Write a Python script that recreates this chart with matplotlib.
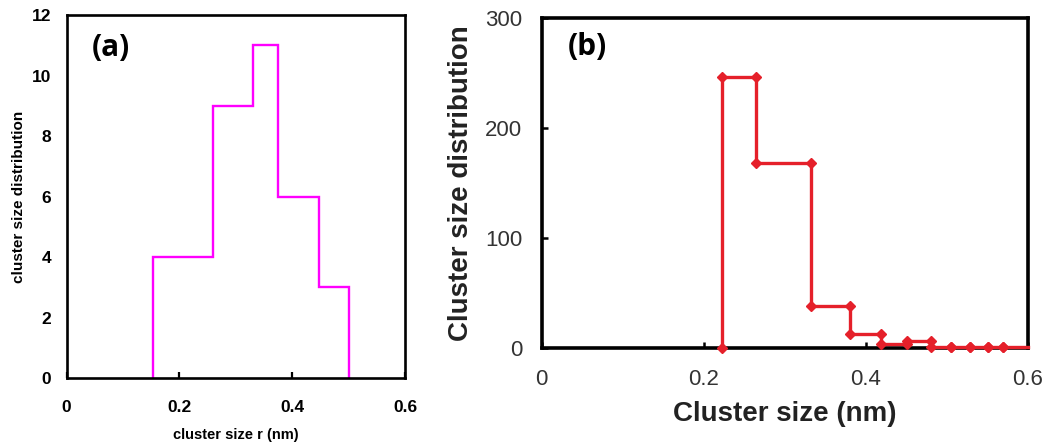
import matplotlib
matplotlib.use("Agg")
from matplotlib import pyplot as plt

# panel (a): histogram of cluster size r
edges_a = [0.153, 0.26, 0.33, 0.375, 0.448, 0.5]
counts_a = [4, 9, 11, 6, 3]
xticks_a = [0, 0.2, 0.4, 0.6]
xticklabels_a = ["0", "0.2", "0.4", "0.6"]
yticks_a = [0, 2, 4, 6, 8, 10, 12]

# panel (b): step distribution with diamond markers
edges_b = [0.222, 0.264, 0.332, 0.380, 0.418, 0.451, 0.480, 0.505, 0.528, 0.550, 0.569, 0.600]
values_b = [246, 168, 38, 13, 4, 7, 1, 1, 1, 1, 1]
xticks_b = [0, 0.2, 0.4, 0.6]
xticklabels_b = ["0", "0.2", "0.4", "0.6"]
yticks_b = [0, 100, 200, 300]

fig = plt.figure(figsize=(10.5, 4.44), dpi=100)

###############################
### panel (a)
ax1 = fig.add_axes([0.0635, 0.1486, 0.3222, 0.8176])
ax1.stairs(counts_a, edges_a, baseline=0, color="#FF00FF", linewidth=1.7)
ax1.set_xlim(0, 0.6)
ax1.set_ylim(0, 12)
ax1.set_xticks(xticks_a)
ax1.set_xticklabels(xticklabels_a)
ax1.set_yticks(yticks_a)
for s in ax1.spines.values():
    s.set_linewidth(1.9)
    s.set_color("black")
ax1.tick_params(axis="x", direction="in", length=4, width=1.6, pad=16)
ax1.tick_params(axis="y", length=0, pad=11)
for lab in ax1.get_xticklabels() + ax1.get_yticklabels():
    lab.set_fontfamily("Liberation Sans")
    lab.set_fontweight("bold")
    lab.set_fontsize(12.5)
ax1.set_xlabel("cluster size r (nm)", fontsize=10.5, fontweight="bold",
               family="Liberation Sans", labelpad=9)
ax1.set_ylabel("cluster size distribution", fontsize=11, fontweight="bold",
               family="Liberation Sans", labelpad=4)
ax1.text(0.075, 0.909, "(a)", transform=ax1.transAxes, fontsize=21.5,
         fontweight="bold", family="Open Sans", va="center", ha="left")

###############################
### panel (b)
ax2 = fig.add_axes([0.5159, 0.2155, 0.4632, 0.744])
xs = [edges_b[0]]
ys = [0]
for i, v in enumerate(values_b):
    xs += [edges_b[i], edges_b[i + 1]]
    ys += [v, v]
ax2.plot(xs[:-1], ys[:-1], color="#E5202A", linewidth=2.4, marker="D",
         markersize=5, zorder=3, clip_on=False)
ax2.plot(xs[-2:], ys[-2:], color="#E5202A", linewidth=2.4, zorder=3, clip_on=False)
ax2.set_xlim(0, 0.6)
ax2.set_ylim(0, 300)
ax2.set_xticks(xticks_b)
ax2.set_xticklabels(xticklabels_b)
ax2.set_yticks(yticks_b)
for s in ax2.spines.values():
    s.set_linewidth(2.6)
    s.set_color("black")
ax2.tick_params(axis="both", direction="in", length=4, width=1.8,
                labelsize=16, labelcolor="#333333")
ax2.tick_params(axis="x", pad=15)
ax2.tick_params(axis="y", pad=14)
for lab in ax2.get_xticklabels() + ax2.get_yticklabels():
    lab.set_fontfamily("Liberation Sans")
ax2.set_xlabel("Cluster size (nm)", fontsize=20, fontweight="bold",
               family="Liberation Sans", color="#222222", labelpad=8)
ax2.set_ylabel("Cluster size distribution", fontsize=20, fontweight="bold",
               family="Liberation Sans", color="#222222", labelpad=8)
ax2.text(0.054, 0.911, "(b)", transform=ax2.transAxes, fontsize=21.5,
         fontweight="bold", family="Open Sans", va="center", ha="left")

plt.savefig("out.png", dpi=100)
